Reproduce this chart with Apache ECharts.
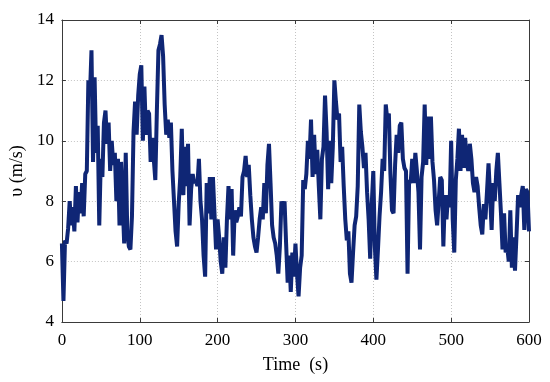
<!DOCTYPE html>
<html>
<head>
<meta charset="utf-8">
<script src="https://cdn.jsdelivr.net/npm/echarts@6/dist/echarts.min.js"></script>
<style>
html,body{margin:0;padding:0;background:#fff;}
#chart{width:550px;height:382px;}
</style>
</head>
<body>
<div id="chart"></div>
<script>
// Time step of the samples (s) and sampled wind speed (m/s)
var timeStart = 0;
var timeStep = 2;
var speeds = [
  6.6, 4.7, 6.7, 6.6, 7.1, 8.0,
  7.2, 7.8, 7.0, 8.5, 7.3, 8.3, 7.6, 8.6, 7.5, 8.9,
  9.0, 12.0, 11.5, 13.0, 9.3, 12.1, 9.6, 10.5, 7.2, 9.4,
  8.8, 10.6, 11.0, 9.9, 10.6, 9.0, 10.0, 9.2, 9.6, 8.0,
  9.4, 7.2, 9.3, 8.0, 6.6, 9.6, 7.0, 6.5, 6.4, 7.5,
  10.3, 11.3, 10.2, 11.5, 12.2, 12.5, 10.0, 11.8, 10.2, 11.0,
  10.9, 9.3, 10.1, 9.4, 8.7, 11.0, 13.0, 13.2, 13.5, 12.8,
  11.2, 10.2, 10.7, 10.1, 10.6, 9.0, 8.0, 7.0, 6.5, 7.9,
  8.8, 10.4, 8.2, 9.8, 8.5, 9.9, 7.2, 8.4, 8.9, 8.6,
  8.7, 8.5, 9.4, 8.0, 7.4, 6.2, 5.5, 8.6, 7.6, 8.8,
  7.4, 8.8, 7.6, 6.4, 7.4, 6.8, 6.0, 5.6, 6.8, 5.8,
  7.4, 8.5, 7.4, 8.4, 6.2, 7.7, 7.3, 7.5, 7.8, 7.5,
  8.8, 9.0, 9.5, 8.8, 9.2, 8.2, 7.4, 6.8, 6.5, 6.3,
  6.8, 7.4, 7.8, 7.4, 8.6, 7.6, 9.2, 9.9, 8.6, 7.2,
  6.8, 6.6, 6.2, 5.6, 6.5, 8.0, 7.6, 8.0, 6.6, 5.3,
  6.2, 5.0, 6.3, 5.5, 6.6, 5.6, 4.85, 5.8, 6.2, 8.7,
  8.4, 8.9, 10.0, 9.4, 10.7, 8.8, 10.2, 8.9, 9.7, 8.5,
  7.4, 9.4, 9.8, 11.5, 10.3, 8.4, 10.0, 8.6, 9.8, 12.0,
  11.3, 10.7, 10.9, 9.3, 9.8, 8.5, 7.4, 6.7, 7.0, 5.6,
  5.3, 6.3, 7.2, 7.5, 8.5, 11.2, 10.3, 9.8, 9.1, 9.6,
  8.3, 7.4, 6.1, 7.9, 9.0, 6.5, 5.4, 6.4, 7.5, 8.3,
  9.4, 9.0, 11.2, 10.7, 10.9, 8.9, 7.7, 7.6, 9.2, 10.2,
  9.6, 10.5, 10.6, 9.4, 9.1, 9.0, 5.6, 8.7, 8.6, 9.4,
  8.6, 9.6, 9.0, 8.3, 6.4, 8.8, 9.3, 11.2, 9.2, 10.8,
  9.4, 10.8, 9.3, 8.7, 7.7, 7.2, 8.0, 8.8, 8.7, 6.5,
  8.2, 7.4, 8.2, 7.8, 10.0, 7.4, 6.3, 8.7, 9.4, 10.4,
  9.0, 10.2, 9.1, 10.1, 9.3, 9.0, 9.9, 9.4, 8.6, 8.3,
  8.8, 8.5, 7.8, 7.2, 6.9, 7.9, 7.4, 8.3, 9.25, 8.2,
  7.05, 8.6, 8.0, 9.0, 9.6, 8.6, 7.6, 6.4, 7.6, 6.3,
  6.5, 6.0, 7.7, 5.8, 6.8, 5.7, 6.9, 8.2, 7.8, 8.2,
  8.5, 7.05, 8.4, 8.3, 7.0
];
var xTicks = [0, 100, 200, 300, 400, 500, 600];
var yTicks = [4, 6, 8, 10, 12, 14];
var xTitle = 'Time  (s)';
var yTitle = '\u03c5 (m/s)';

var points = speeds.map(function (v, i) { return [timeStart + i * timeStep, v]; });

var font = 'Liberation Serif';
var frameColor = '#3a3a3a';
var gridLine = { show: true, lineStyle: { color: '#c4c4c4', type: [1, 2], width: 1 } };

var chart = echarts.init(document.getElementById('chart'), null, { renderer: 'canvas' });
chart.setOption({
  animation: false,
  backgroundColor: '#fff',
  grid: { left: 59, right: 21, top: 20, bottom: 60, containLabel: false },
  xAxis: [{
    type: 'value', min: xTicks[0], max: xTicks[xTicks.length - 1], interval: 100,
    position: 'bottom',
    name: xTitle, nameLocation: 'middle', nameGap: 34,
    nameTextStyle: { fontFamily: font, fontSize: 18, color: '#000' },
    axisLine: { show: true, onZero: false, lineStyle: { color: frameColor, width: 1 } },
    axisTick: { show: true, inside: true, length: 4, lineStyle: { color: frameColor } },
    axisLabel: { fontFamily: font, fontSize: 17, color: '#000', margin: 10 },
    splitLine: gridLine
  }, {
    type: 'value', min: xTicks[0], max: xTicks[xTicks.length - 1], interval: 100,
    position: 'top',
    axisLine: { show: true, onZero: false, lineStyle: { color: frameColor, width: 1 } },
    axisTick: { show: true, inside: true, length: 4, lineStyle: { color: frameColor } },
    axisLabel: { show: false },
    splitLine: { show: false }
  }],
  yAxis: [{
    type: 'value', min: yTicks[0], max: yTicks[yTicks.length - 1], interval: 2,
    position: 'left',
    name: yTitle, nameLocation: 'middle', nameGap: 34, nameRotate: 90,
    nameTextStyle: { fontFamily: font, fontSize: 18, color: '#000' },
    axisLine: { show: true, onZero: false, lineStyle: { color: frameColor, width: 1 } },
    axisTick: { show: true, inside: true, length: 4, lineStyle: { color: frameColor } },
    axisLabel: { fontFamily: font, fontSize: 17, color: '#000', margin: 8 },
    splitLine: gridLine
  }, {
    type: 'value', min: yTicks[0], max: yTicks[yTicks.length - 1], interval: 2,
    position: 'right',
    axisLine: { show: true, onZero: false, lineStyle: { color: frameColor, width: 1 } },
    axisTick: { show: true, inside: true, length: 4, lineStyle: { color: frameColor } },
    axisLabel: { show: false },
    splitLine: { show: false }
  }],
  series: [{
    type: 'line',
    data: points,
    xAxisIndex: 0, yAxisIndex: 0,
    showSymbol: false,
    symbol: 'none',
    lineStyle: { color: '#0f2675', width: 4, join: 'bevel', cap: 'butt' },
    itemStyle: { color: '#0f2675' }
  }]
});
</script>
</body>
</html>
